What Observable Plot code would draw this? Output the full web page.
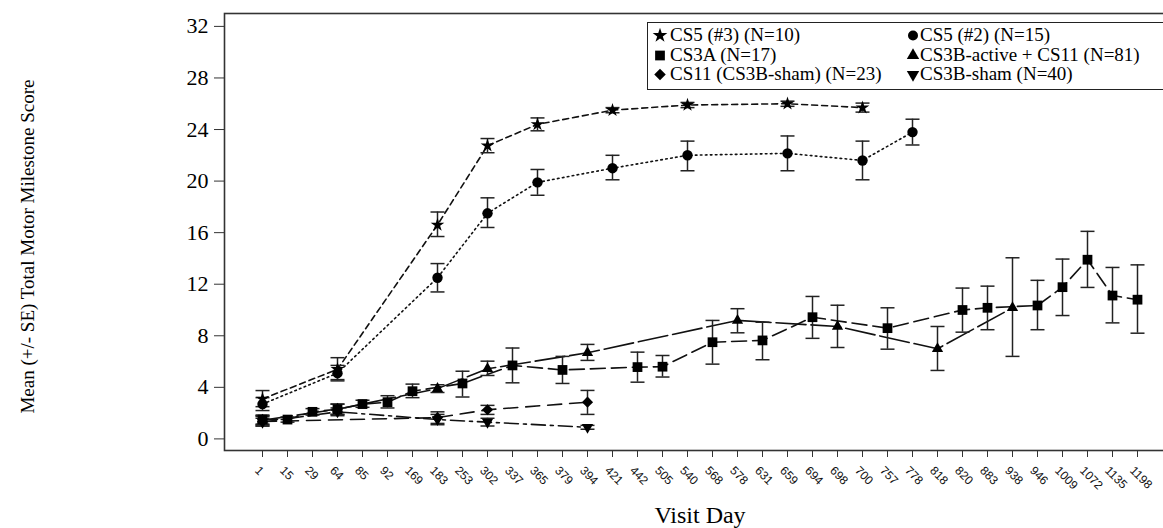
<!DOCTYPE html>
<html>
<head>
<meta charset="utf-8">
<script src="https://cdn.jsdelivr.net/npm/d3@7"></script>
<script src="https://cdn.jsdelivr.net/npm/@observablehq/plot@0.6"></script>
<style>
  html, body { margin: 0; padding: 0; background: #fff; overflow: hidden; }
  #wrap { position: relative; width: 1180px; height: 528px; }
  #legend {
    position: absolute; left: 647px; top: 22px; width: 540px; height: 68px;
    border: 1.5px solid #222; background: #fff; box-sizing: border-box;
    font-family: "Liberation Serif", "Times New Roman", serif; font-size: 19px; color: #000;
    padding-top: 2px;
  }
  .lrow { position: relative; height: 19.5px; line-height: 19.5px; }
  .litem { position: absolute; top: 0; white-space: nowrap; }
  .litem svg { position: absolute; top: 2px; }
  .litem span { position: absolute; white-space: nowrap; }
</style>
</head>
<body>
<div id="wrap"></div>
<script>
// ---------- data ----------
const days = ["1","15","29","64","85","92","169","183","253","302","337","365","379","394","421","442","505","540","568","578","631","659","694","698","700","757","778","818","820","883","938","946","1009","1072","1135","1198"];
const yTicks = [0, 4, 8, 12, 16, 20, 24, 28, 32];

// CS5 (#3) (N=10) – star
const cs53Days = ["1","64","183","302","365","421","540","659","700"];
const cs53Mean = [3.1, 5.4, 16.6, 22.75, 24.4, 25.5, 25.9, 26.0, 25.7];
const cs53Lo   = [2.5, 4.6, 15.7, 22.2, 23.9, 25.3, 25.7, 25.8, 25.35];
const cs53Hi   = [3.75, 6.3, 17.6, 23.3, 24.9, 25.7, 26.1, 26.2, 26.05];

// CS5 (#2) (N=15) – circle
const cs52Days = ["1","64","183","302","365","421","540","659","700","778"];
const cs52Mean = [2.7, 5.1, 12.5, 17.5, 19.9, 21.0, 22.0, 22.15, 21.6, 23.8];
const cs52Lo   = [2.2, 4.5, 11.4, 16.4, 18.9, 20.1, 20.8, 20.8, 20.1, 22.8];
const cs52Hi   = [3.2, 5.7, 13.6, 18.7, 20.9, 22.0, 23.1, 23.5, 23.1, 24.8];

// CS3A (N=17) – square
const cs3aDays = ["1","15","29","64","85","92","169","253","337","379","442","505","568","631","694","757","820","883","946","1009","1072","1135","1198"];
const cs3aMean = [1.5, 1.5, 2.1, 2.3, 2.7, 2.85, 3.7, 4.3, 5.7, 5.35, 5.57, 5.6, 7.5, 7.64, 9.44, 8.59, 10.0, 10.17, 10.35, 11.77, 13.9, 11.12, 10.8];
const cs3aLo   = [1.15, 1.3, 1.85, 1.9, 2.45, 2.4, 3.2, 3.25, 4.35, 4.3, 4.4, 4.8, 5.8, 6.14, 7.8, 6.96, 8.28, 8.47, 8.47, 9.57, 11.75, 9.0, 8.2];
const cs3aHi   = [1.85, 1.7, 2.35, 2.7, 3.0, 3.35, 4.25, 5.25, 7.05, 6.4, 6.73, 6.47, 9.19, 9.05, 11.05, 10.17, 11.7, 11.85, 12.3, 13.95, 16.1, 13.3, 13.5];

// CS3B-active + CS11 (N=81) – triangle
const cs3bDays = ["1","64","183","302","394","578","698","818","938"];
const cs3bMean = [1.45, 2.3, 3.9, 5.44, 6.68, 9.19, 8.72, 6.99, 10.17];
const cs3bLo   = [1.1, 1.9, 3.6, 4.92, 6.09, 8.23, 7.09, 5.31, 6.4];
const cs3bHi   = [1.8, 2.7, 4.2, 6.03, 7.33, 10.1, 10.37, 8.72, 14.05];

// CS11 (CS3B-sham) (N=23) – diamond
const cs11Days = ["1","183","302","394"];
const cs11Mean = [1.35, 1.65, 2.26, 2.85];
const cs11Lo   = [1.0, 1.2, 1.9, 1.9];
const cs11Hi   = [1.75, 2.1, 2.6, 3.76];

// CS3B-sham (N=40) – inverted triangle
const shamDays = ["1","64","183","302","394"];
const shamMean = [1.3, 2.1, 1.5, 1.3, 0.9];
const shamLo   = [1.0, 1.8, 1.1, 1.0, 0.75];
const shamHi   = [1.6, 2.4, 1.9, 1.6, 1.05];

const xTitle = "Visit Day";
const yTitle = "Mean (+/- SE) Total Motor Milestone Score";

// ---------- helpers ----------
const sqrt3 = Math.sqrt(3);
const triDown = {
  draw(context, size) {
    const y = -Math.sqrt(size / (sqrt3 * 3));
    context.moveTo(0, -y * 2);
    context.lineTo(-sqrt3 * y, y);
    context.lineTo(sqrt3 * y, y);
    context.closePath();
  }
};
const cap = { draw(context) { context.moveTo(-7, 0); context.lineTo(7, 0); } };

function rows(ds, m, lo, hi) { return ds.map((d, i) => ({day: d, mean: m[i], lo: lo[i], hi: hi[i]})); }

const series = [
  {name: "CS5 (#3) (N=10)", data: rows(cs53Days, cs53Mean, cs53Lo, cs53Hi), symbol: "star", r: 4.3, lr: 4.6, dash: "6,4"},
  {name: "CS5 (#2) (N=15)", data: rows(cs52Days, cs52Mean, cs52Lo, cs52Hi), symbol: "circle", r: 5.2, lr: 5.0, dash: "1.6,3.4"},
  {name: "CS3A (N=17)", data: rows(cs3aDays, cs3aMean, cs3aLo, cs3aHi), symbol: "square", r: 5.5, lr: 5.5, dash: "15,6"},
  {name: "CS3B-active + CS11 (N=81)", data: rows(cs3bDays, cs3bMean, cs3bLo, cs3bHi), symbol: "triangle", r: 4.2, lr: 4.6, dash: "30,5"},
  {name: "CS11 (CS3B-sham) (N=23)", data: rows(cs11Days, cs11Mean, cs11Lo, cs11Hi), symbol: "diamond2", r: 5.0, lr: 5.2, dash: "14,8"},
  {name: "CS3B-sham (N=40)", data: rows(shamDays, shamMean, shamLo, shamHi), symbol: triDown, r: 4.2, lr: 4.6, dash: "14,5,3,5"}
];

const serif = "Liberation Serif, Times New Roman, serif";
const sans = "Liberation Sans, Arial, sans-serif";

const marks = [];
for (const s of series) {
  marks.push(Plot.line(s.data, {x: "day", y: "mean", stroke: "#111", strokeWidth: 1.6, strokeDasharray: s.dash}));
}
for (const s of series) {
  marks.push(Plot.ruleX(s.data, {x: "day", y1: "lo", y2: "hi", stroke: "#222", strokeWidth: 1.5}));
  marks.push(Plot.dot(s.data, {x: "day", y: "lo", symbol: cap, r: 4, fill: "none", stroke: "#222", strokeWidth: 1.5}));
  marks.push(Plot.dot(s.data, {x: "day", y: "hi", symbol: cap, r: 4, fill: "none", stroke: "#222", strokeWidth: 1.5}));
}
for (const s of series) {
  marks.push(Plot.dot(s.data, {x: "day", y: "mean", symbol: s.symbol, r: s.r, fill: "#000", stroke: "none"}));
}

const chart = Plot.plot({
  width: 1180,
  height: 528,
  marginTop: 13,
  marginBottom: 78,
  marginLeft: 224,
  marginRight: 5,
  style: {background: "#fff", color: "#000", fontFamily: serif, overflow: "visible"},
  x: {type: "point", domain: days, padding: 0.93, axis: null},
  y: {domain: [-0.9, 33], axis: null},
  marks: [
    ...marks,
    Plot.frame({stroke: "#333", strokeWidth: 1.6}),
    Plot.axisY(yTicks, {tickSize: 10, tickPadding: 6, fontSize: 22, fontFamily: serif, label: null, stroke: "#333"}),
    Plot.axisX(days, {tickSize: 7, tickFormat: () => "", label: null, stroke: "#333"}),
    Plot.text(days, {x: d => d, frameAnchor: "bottom", text: d => d, rotate: 45, textAnchor: "start", lineAnchor: "middle", dx: -5.6, dy: 18, fontSize: 12, fontFamily: sans, fill: "#111"}),
    Plot.text([xTitle], {frameAnchor: "bottom", text: d => d, textAnchor: "middle", lineAnchor: "bottom", dy: 72.6, fontSize: 24, fontFamily: serif, fill: "#000"}),
    Plot.text([yTitle], {frameAnchor: "left", text: d => d, rotate: -90, textAnchor: "middle", lineAnchor: "middle", dx: -197, dy: 14.5, fontSize: 19, fontFamily: serif, fill: "#000"})
  ]
});
document.getElementById("wrap").appendChild(chart);

// ---------- legend ----------
const legend = document.createElement("div");
legend.id = "legend";
const layout = [[0, 1], [2, 3], [4, 5]];
const colSym = [4, 257], colText = [22, 272];
const symbolTypes = {star: d3.symbolStar, circle: d3.symbolCircle, square: d3.symbolSquare, triangle: d3.symbolTriangle, diamond2: d3.symbolDiamond2};
for (const pair of layout) {
  const row = document.createElement("div");
  row.className = "lrow";
  pair.forEach((idx, c) => {
    const s = series[idx];
    const item = document.createElement("div");
    item.className = "litem";
    item.style.left = "0px";
    const svg = d3.create("svg").attr("width", 16).attr("height", 16).style("left", colSym[c] + "px");
    const type = typeof s.symbol === "string" ? symbolTypes[s.symbol] : s.symbol;
    svg.append("path").attr("transform", "translate(8,8.5)").attr("d", d3.symbol(type, s.lr * s.lr * Math.PI)()).attr("fill", "#000");
    item.appendChild(svg.node());
    const t = document.createElement("span");
    t.textContent = s.name;
    t.style.left = colText[c] + "px";
    item.appendChild(t);
    row.appendChild(item);
  });
  legend.appendChild(row);
}
document.getElementById("wrap").appendChild(legend);
</script>
</body>
</html>
